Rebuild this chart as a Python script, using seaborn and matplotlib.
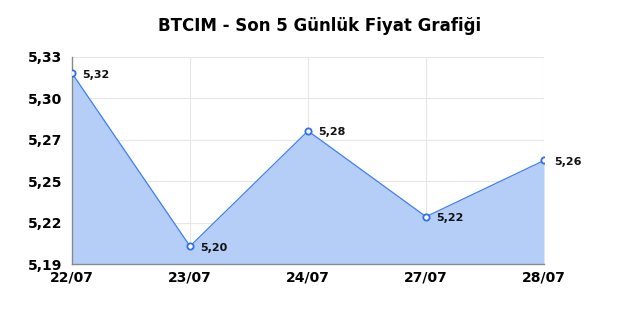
import matplotlib
matplotlib.use("Agg")
import matplotlib.pyplot as plt
import seaborn as sns
import numpy as np
import pandas as pd

dates = ["22/07", "23/07", "24/07", "27/07", "28/07"]
prices = [5.319, 5.202, 5.280, 5.222, 5.260]
price_labels = ["5,32", "5,20", "5,28", "5,22", "5,26"]
y_min, y_max = 5.19, 5.33

sns.set_style("white")
plt.rcParams['font.family'] = ['DejaVu Sans']
plt.rcParams['text.color'] = 'black'
plt.rcParams['xtick.color'] = 'black'
plt.rcParams['ytick.color'] = 'black'

fig = plt.figure(figsize=(6.4, 3.2), dpi=100)
ax = fig.add_axes([0.1125, 0.175, 0.7375, 0.647])

df = pd.DataFrame({"x": np.arange(len(dates)), "price": prices})
ax.fill_between(df["x"], df["price"], y_min, color="#b5cef8", alpha=1.0, zorder=1, linewidth=0)
sns.lineplot(data=df, x="x", y="price", ax=ax, color="#3f7fee", linewidth=0.9,
             marker="o", markersize=4.5, markerfacecolor="white",
             markeredgecolor="#2f6fe8", markeredgewidth=1.3, zorder=3)

for xi, yi, lab in zip(df["x"], prices, price_labels):
    ax.annotate(lab, (xi, yi), xytext=(7, -1), textcoords="offset points",
                fontsize=8, fontweight="bold", va="center", ha="left", color="#111111")

ax.set_xlim(0, len(dates) - 1)
ax.set_ylim(y_min, y_max)
yt = np.linspace(y_min, y_max, 6)
ax.set_yticks(yt)
ax.set_yticklabels([f"{v:.2f}".replace(".", ",") for v in yt], fontsize=10, fontweight="bold")
ax.set_xticks(df["x"])
ax.set_xticklabels(dates, fontsize=10, fontweight="bold")
ax.tick_params(axis="x", length=0, pad=5)
ax.tick_params(axis="y", length=0, pad=7)
ax.set_xlabel("")
ax.set_ylabel("")

ax.grid(True, color="#e6e6e6", linewidth=0.8, zorder=0)
ax.set_axisbelow(True)
for s in ["top", "right"]:
    ax.spines[s].set_visible(False)
for s in ["left", "bottom"]:
    ax.spines[s].set_color("#888888")
    ax.spines[s].set_linewidth(1.0)

fig.suptitle("BTCIM - Son 5 Günlük Fiyat Grafiği", fontsize=12, fontweight="bold",
             x=0.5, y=0.919, va="center", color="black")

fig.savefig("out.png", dpi=100)
